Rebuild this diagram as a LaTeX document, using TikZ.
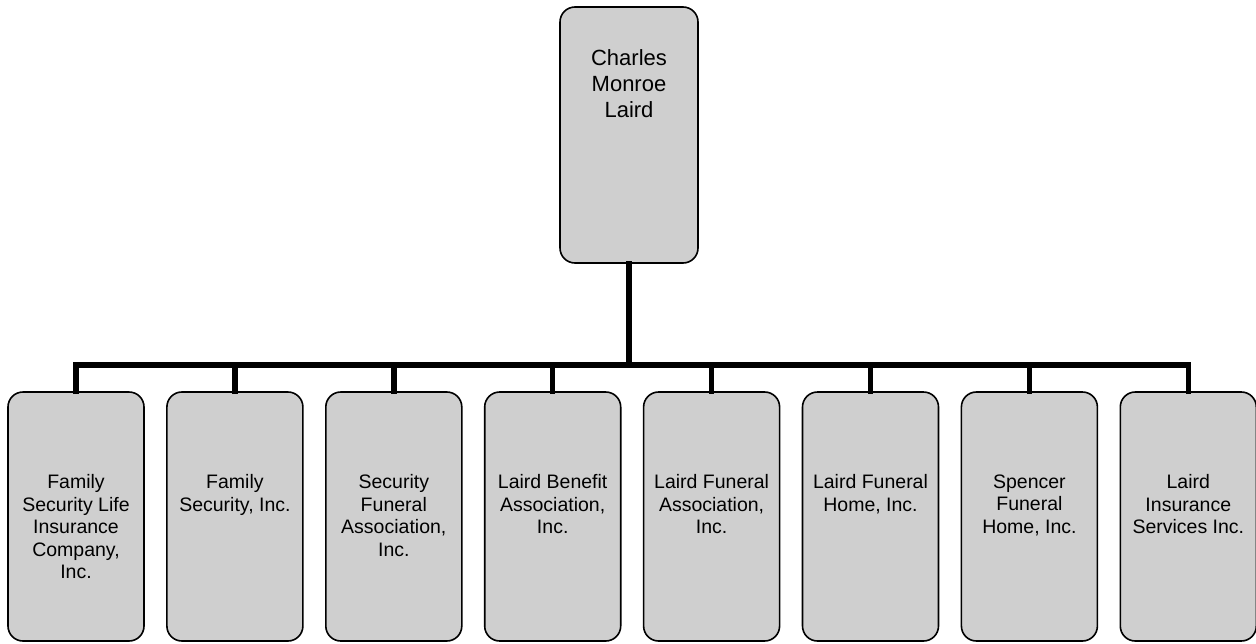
\documentclass[tikz,border=0pt]{standalone}
\usepackage{fontspec}
\setmainfont{Liberation Sans}
\usetikzlibrary{positioning}

\begin{document}
\begin{tikzpicture}[
    x = 1pt, y = -1pt,
    box/.style =
    { shape           = rectangle,
      draw,
      line width      = 1.6pt,
      rounded corners = 15pt,
      fill            = black!19 },
    owner/.style =
    { box,
      minimum width  = 138pt,
      minimum height = 256pt },
    unit/.style =
    { box,
      minimum width  = 136pt,
      minimum height = 249pt },
    toptext/.style =
    { align  = center,
      anchor = north,
      yshift = -40pt,
      font   = \fontsize{22}{26}\selectfont },
    unittext/.style =
    { align  = center,
      anchor = north,
      yshift = -80pt,
      font   = \fontsize{19.5}{22.5}\selectfont },
    link/.style =
    { line width = 5.5pt,
      line cap   = rect }
  ]
  \useasboundingbox (0,0) rectangle (1256,643);

  \node[owner, label = {[toptext]north:Charles\\Monroe\\Laird}] (cml) at (629,135) {};

  \node[unit, label = {[unittext]north:Family\\Security Life\\Insurance\\Company,\\Inc.}] (fsl) at (76,516.5) {};
  \node[unit, right = 21.3pt of fsl, label = {[unittext]north:Family\\Security, Inc.}] (fsi) {};
  \node[unit, right = 21.3pt of fsi, label = {[unittext]north:Security\\Funeral\\Association,\\Inc.}] (sfa) {};
  \node[unit, right = 21.3pt of sfa, label = {[unittext]north:Laird Benefit\\Association,\\Inc.}] (lba) {};
  \node[unit, right = 21.3pt of lba, label = {[unittext]north:Laird Funeral\\Association,\\Inc.}] (lfa) {};
  \node[unit, right = 21.3pt of lfa, label = {[unittext]north:Laird Funeral\\Home, Inc.}] (lfh) {};
  \node[unit, right = 21.3pt of lfh, label = {[unittext]north:Spencer\\Funeral\\Home, Inc.}] (sfh) {};
  \node[unit, right = 21.3pt of sfh, label = {[unittext]north:Laird\\Insurance\\Services Inc.}] (lis) {};

  \coordinate (bus) at (629,365);

  \draw[link] (cml.south) -- (bus);
  \draw[link] (fsl.north) |- (lis.north |- bus) -- (lis.north);
  \foreach \n in {fsi, sfa, lba, lfa, lfh, sfh}
    \draw[link] (\n.north) -- (\n.north |- bus);
\end{tikzpicture}
\end{document}
